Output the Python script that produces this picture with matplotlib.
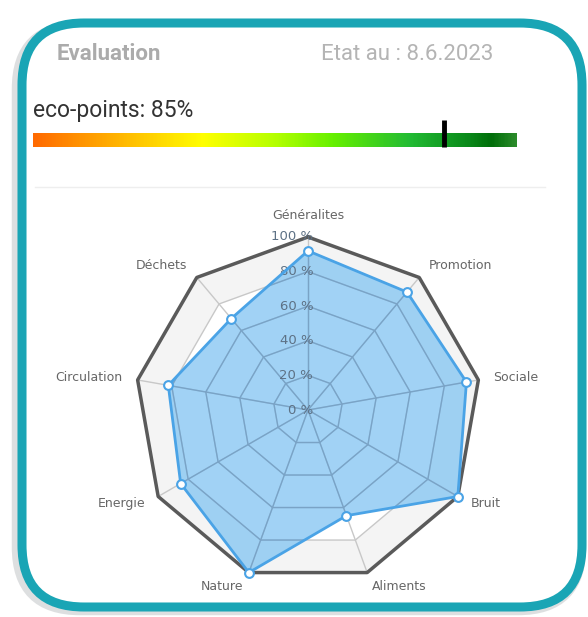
import numpy as np
import matplotlib.pyplot as plt
from matplotlib.patches import FancyBboxPatch, Polygon
from matplotlib.colors import LinearSegmentedColormap

# données
categories = ["Généralites", "Promotion", "Sociale", "Bruit", "Aliments",
              "Nature", "Energie", "Circulation", "Déchets"]
valeurs = [92, 89, 93, 100, 65, 100, 85, 82, 69]
anneaux = [0, 20, 40, 60, 80, 100]
anneau_labels = ["0 %", "20 %", "40 %", "60 %", "80 %", "100 %"]
eco_points = 85
titre = "Evaluation"
date_txt = "Etat au : 8.6.2023"

W, H = 588, 617
fig = plt.figure(figsize=(W / 100, H / 100), dpi=100)
fig.patch.set_facecolor("white")

# --- cadre (coordonnées pixels) ---
bg = fig.add_axes([0, 0, 1, 1])
bg.set_xlim(0, W)
bg.set_ylim(H, 0)
bg.axis("off")

ombre = FancyBboxPatch((18, 27), 562, 582, boxstyle="round,pad=0,rounding_size=62",
                       facecolor="none", edgecolor="#a0a4a8", linewidth=9, alpha=0.35, zorder=1)
bg.add_patch(ombre)
cadre = FancyBboxPatch((22, 23), 560, 584, boxstyle="round,pad=0,rounding_size=62",
                       facecolor="white", edgecolor="#1aa5b5", linewidth=6.5, zorder=2)
bg.add_patch(cadre)

bg.text(57, 54, titre, fontsize=16, fontweight="bold", color="#ababab",
        family="Roboto", ha="left", va="center", zorder=3)
bg.text(493, 54, date_txt, fontsize=16, color="#b4b4b4",
        family="Roboto", ha="right", va="center", zorder=3)
bg.text(33, 110, f"eco-points: {eco_points}%", fontsize=16.5, color="#333333",
        family="Roboto", ha="left", va="center", zorder=3)
bg.plot([35, 545], [187, 187], color="#eeeeee", lw=1, zorder=3)

# --- barre dégradée ---
cmap = LinearSegmentedColormap.from_list("eco", [
    (0.00, "#ff6a00"), (0.15, "#ffaa00"), (0.35, "#ffff00"),
    (0.50, "#b5ff00"), (0.62, "#66f000"), (0.78, "#22bb33"),
    (0.90, "#0a8a1a"), (0.95, "#006e0a"), (1.00, "#2a8a2a")])
bar = fig.add_axes([33 / W, 1 - 147 / H, (517 - 33) / W, 14 / H])
bar.imshow(np.linspace(0, 1, 400)[None, :], aspect="auto", cmap=cmap,
           extent=(0, 100, 0, 1))
bar.set_xlim(0, 100)
bar.set_ylim(0, 1)
bar.axis("off")
bar.plot([eco_points, eco_points], [0, 1.95], color="black", lw=3.5,
         clip_on=False, solid_capstyle="butt")

# --- radar ---
cx, cy, R = 308, 410, 173
L = 125
half = R * L / 100
ax = fig.add_axes([(cx - half) / W, (H - cy - half) / H, 2 * half / W, 2 * half / H])
ax.set_xlim(-L, L)
ax.set_ylim(-L, L)
ax.axis("off")

n = len(categories)
ang = np.deg2rad(90 - 360 / n * np.arange(n))
ux, uy = np.cos(ang), np.sin(ang)

# bande extérieure
ext = np.column_stack([100 * ux, 100 * uy])
intr = np.column_stack([80 * ux, 80 * uy])
ax.add_patch(Polygon(np.vstack([ext, ext[:1], intr[:1], intr[::-1]]),
                     closed=True, facecolor="#f4f4f4", edgecolor="none", zorder=1))

def grille(color, z, lw=1, clip=None):
    lines = []
    for r in anneaux[1:-1]:
        lines += ax.plot(np.append(r * ux, r * ux[0]), np.append(r * uy, r * uy[0]),
                         color=color, lw=lw, zorder=z)
    for k in range(n):
        lines += ax.plot([0, 100 * ux[k]], [0, 100 * uy[k]], color=color, lw=lw, zorder=z)
    if clip is not None:
        for ln in lines:
            ln.set_clip_path(clip)

grille("#c8c8c8", 2)
ax.plot(np.append(100 * ux, 100 * ux[0]), np.append(100 * uy, 100 * uy[0]),
        color="#5a5a5a", lw=2.5, zorder=2)

v = np.array(valeurs)
px, py = v * ux, v * uy
zone = ax.fill(px, py, facecolor="#82c4f2", alpha=0.75, edgecolor="none", zorder=4)[0]
grille("#7aa3c6", 4.5, lw=1, clip=zone)
ax.plot(np.append(px, px[0]), np.append(py, py[0]), color="#4aa3e6", lw=2, zorder=5)
ax.scatter(px, py, s=40, facecolor="white", edgecolor="#4aa3e6", linewidth=1.5, zorder=6)

for r, lab in zip(anneaux, anneau_labels):
    ax.text(3, r, lab, fontsize=9.5, color="#5d7185", ha="right", va="center",
            family="DejaVu Sans", zorder=4.8)

off = 188 / R * 100
for k, lab in enumerate(categories):
    x, y = off * ux[k], off * uy[k]
    if abs(ux[k]) < 0.05:
        ha, va = "center", ("bottom" if uy[k] > 0 else "top")
    else:
        ha, va = ("left" if ux[k] > 0 else "right"), "center"
    ax.text(x, y, lab, fontsize=9, color="#666666", ha=ha, va=va,
            family="DejaVu Sans", zorder=7)

fig.savefig("out.png", dpi=100, facecolor="white")
